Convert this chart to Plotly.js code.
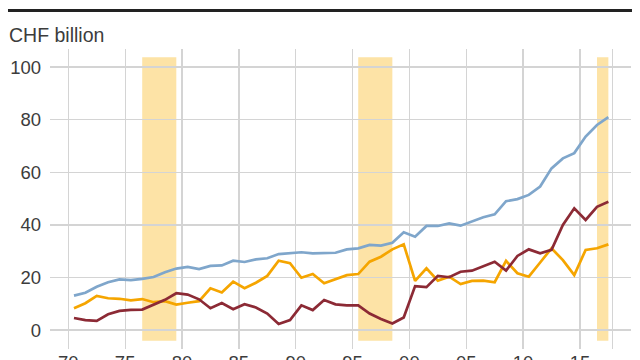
<!DOCTYPE html>
<html>
<head>
<meta charset="utf-8">
<script src="https://cdn.plot.ly/plotly-3.0.1.min.js"></script>
<style>html,body{margin:0;padding:0;background:#fff;}#chart{width:640px;height:360px;}</style>
</head>
<body>
<div id="chart"></div>
<script>
const years = [1970,1971,1972,1973,1974,1975,1976,1977,1978,1979,
  1980,1981,1982,1983,1984,1985,1986,1987,1988,1989,
  1990,1991,1992,1993,1994,1995,1996,1997,1998,1999,
  2000,2001,2002,2003,2004,2005,2006,2007,2008,2009,
  2010,2011,2012,2013,2014,2015,2016,2017];

const blueSeries = [13.1,14.2,16.5,18.2,19.3,19.0,19.5,20.2,22.0,23.4,
  24.0,23.2,24.4,24.6,26.4,25.9,26.9,27.3,28.9,29.2,
  29.6,29.2,29.4,29.4,30.7,31.1,32.4,32.1,33.2,37.2,
  35.5,39.6,39.6,40.6,39.7,41.2,42.9,44.0,49.0,49.8,
  51.4,54.6,61.5,65.3,67.3,73.6,78.0,81.0];

const orangeSeries = [8.3,10.2,13.0,12.1,11.9,11.3,11.8,10.6,11.0,9.7,
  10.4,11.0,15.9,14.3,18.4,15.9,18.0,20.6,26.4,25.4,
  19.9,21.3,17.8,19.3,20.9,21.3,26.0,27.9,30.7,32.6,
  18.7,23.5,18.8,20.3,17.5,18.7,18.8,18.2,26.3,21.6,
  20.3,25.7,31.1,26.6,20.9,30.5,31.1,32.6];

const redSeries = [4.6,3.8,3.5,6.0,7.3,7.7,7.8,9.6,11.5,14.0,
  13.5,11.7,8.3,10.3,7.9,9.8,8.6,6.3,2.3,3.8,
  9.4,7.6,11.4,9.8,9.4,9.4,6.3,4.2,2.5,4.8,
  16.7,16.3,20.6,20.1,22.2,22.6,24.4,26.0,22.6,28.2,
  30.7,29.2,30.5,40.0,46.3,41.9,46.9,48.8];

// shaded periods (first year, last year)
const bandStarts = [1976, 1995, 2016];
const bandEnds   = [1979, 1998, 2017];

const tickYears  = [1970,1975,1980,1985,1990,1995,2000,2005,2010,2015];
const tickLabels = ['70','75','80','85','90','95','00','05','10','15'];
const yTicks = [0,20,40,60,80,100];

// annual values plotted at mid-year
const midYear = years.map(y => y + 0.5);

const FONT = 'Liberation Sans, Arial, sans-serif';
const TXT = '#3c3c3c';

function line(y, color) {
  return {x: midYear, y: y, type: 'scatter', mode: 'lines',
    line: {color: color, width: 2.7}, hoverinfo: 'skip', showlegend: false};
}

const shapes = bandStarts.map((s, i) => ({
  type: 'rect', xref: 'x', yref: 'y', layer: 'below',
  x0: s + 0.5, x1: bandEnds[i] + 0.5, y0: -4.1, y1: 103.8,
  fillcolor: '#fde3a6', line: {width: 0}
}));
shapes.push({type: 'line', xref: 'paper', yref: 'paper',
  x0: -0.0723, x1: 1.0017, y0: 1.128, y1: 1.128,
  line: {color: '#222', width: 3}});

const layout = {
  width: 640, height: 360,
  margin: {l: 50, r: 9, t: 49, b: 11},
  paper_bgcolor: '#fff', plot_bgcolor: '#fff',
  font: {family: FONT, color: TXT, size: 18},
  xaxis: {
    range: [1968.39, 2019.49],
    tickvals: tickYears.concat([2017.88]),
    ticktext: tickLabels.concat(['']),
    showgrid: true, gridcolor: '#d4d4d4', gridwidth: 1.3,
    zeroline: false, showline: false, ticks: '',
    tickfont: {family: FONT, size: 18.5, color: TXT},
    fixedrange: true
  },
  yaxis: {
    range: [-7.2, 106.9],
    tickvals: yTicks,
    showgrid: true, gridcolor: '#d4d4d4', gridwidth: 1.3,
    zeroline: false, showline: false, ticks: '',
    ticklabelstandoff: 8,
    tickfont: {family: FONT, size: 18.5, color: TXT},
    fixedrange: true
  },
  shapes: shapes,
  annotations: [{
    xref: 'paper', yref: 'paper', x: -0.0740, y: 1.0460,
    xanchor: 'left', yanchor: 'middle', showarrow: false,
    text: 'CHF billion', font: {family: FONT, size: 19.5, color: TXT}
  }]
};

Plotly.newPlot('chart', [
  line(blueSeries, '#7fa6cb'),
  line(orangeSeries, '#f5a500'),
  line(redSeries, '#8c2a35')
], layout, {staticPlot: true, displayModeBar: false});
</script>
</body>
</html>
